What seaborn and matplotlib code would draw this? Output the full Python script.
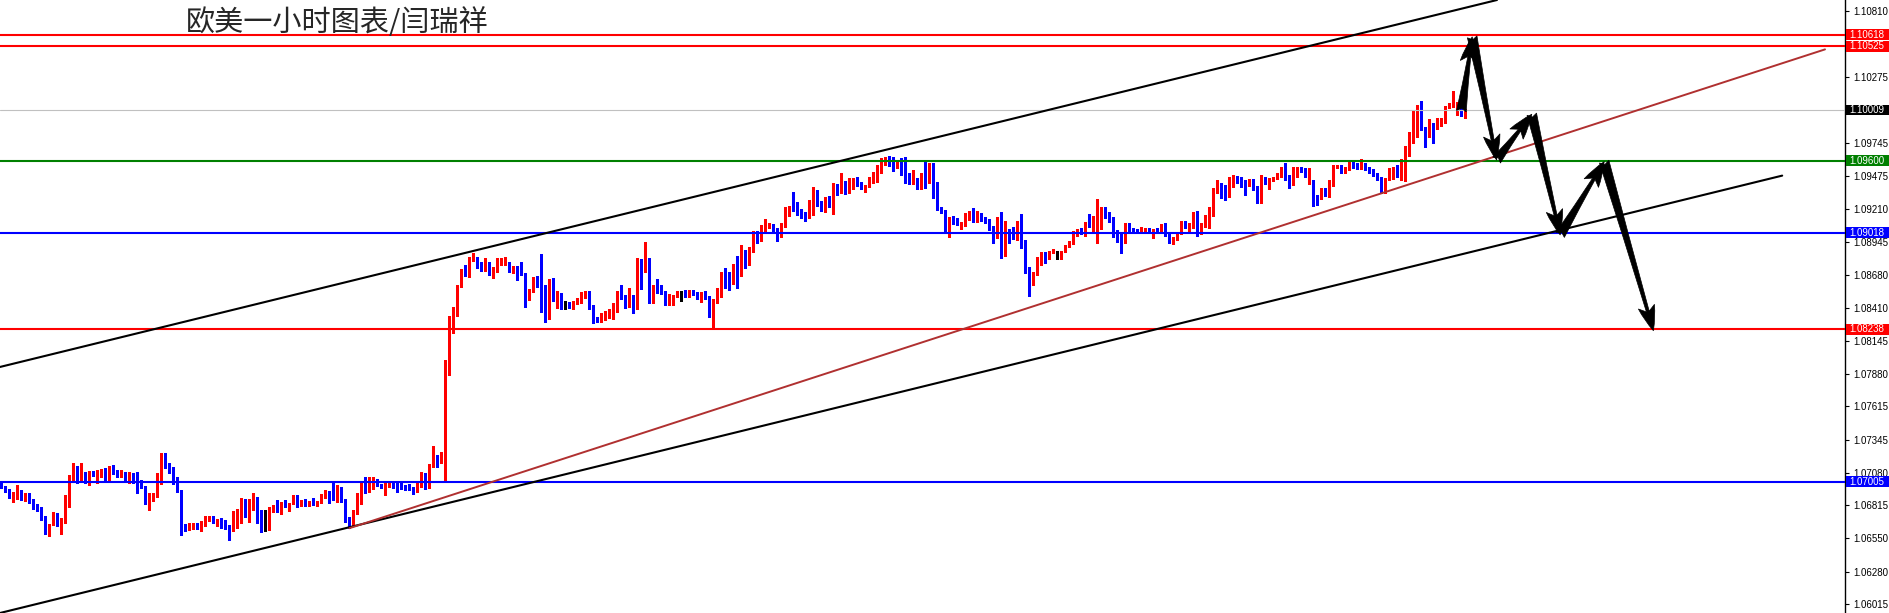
import numpy as np
import matplotlib
matplotlib.use('Agg')
import matplotlib.pyplot as plt
import matplotlib.transforms as mtransforms
from matplotlib.patches import Rectangle
import seaborn as sns

sns.set_style('white')
plt.rcParams['font.family'] = ['Liberation Sans', 'DejaVu Sans']

title = '欧美一小时图表/闫瑞祥'

# hourly EURUSD candles
opens = [
    1.06985, 1.06966, 1.06939, 1.06888, 1.06904, 1.06923, 1.06877, 1.06907, 1.06853, 1.06805,
    1.06783, 1.06710, 1.06635, 1.06662, 1.06751, 1.06657, 1.06675, 1.06885, 1.07034, 1.07128,
    1.07055, 1.07079, 1.07007, 1.07087, 1.07042, 1.07055, 1.07106, 1.07012, 1.07109, 1.07087,
    1.07055, 1.07082, 1.07020, 1.07066, 1.07042, 1.07007, 1.06961, 1.06858, 1.06858, 1.06885,
    1.07060, 1.07230, 1.07133, 1.07087, 1.07034, 1.06931, 1.06657, 1.06621, 1.06635, 1.06662,
    1.06648, 1.06657, 1.06697, 1.06716, 1.06675, 1.06697, 1.06675, 1.06643, 1.06611, 1.06691,
    1.06756, 1.06858, 1.06751, 1.06799, 1.06877, 1.06710, 1.06683, 1.06675, 1.06772, 1.06791,
    1.06778, 1.06837, 1.06815, 1.06829, 1.06891, 1.06818, 1.06850, 1.06815, 1.06845, 1.06818,
    1.06839, 1.06885, 1.06918, 1.06899, 1.06877, 1.06958, 1.06858, 1.06710, 1.06710, 1.06751,
    1.06866, 1.06979, 1.06934, 1.06988, 1.06998, 1.06979, 1.06901, 1.06966, 1.06993, 1.06979,
    1.06971, 1.06966, 1.06950, 1.06950, 1.06934, 1.06971, 1.07041, 1.06966, 1.07133, 1.07208,
    1.07168, 1.07195, 1.07868, 1.08312, 1.08353, 1.08582, 1.08716, 1.08676, 1.08797, 1.08811,
    1.08749, 1.08716, 1.08770, 1.08681, 1.08703, 1.08765, 1.08765, 1.08765, 1.08711, 1.08716,
    1.08716, 1.08689, 1.08501, 1.08549, 1.08641, 1.08622, 1.08582, 1.08334, 1.08641, 1.08501,
    1.08522, 1.08433, 1.08447, 1.08412, 1.08447, 1.08460, 1.08528, 1.08538, 1.08425, 1.08323,
    1.08304, 1.08353, 1.08358, 1.08366, 1.08393, 1.08538, 1.08501, 1.08428, 1.08506, 1.08401,
    1.08797, 1.08743, 1.08775, 1.08479, 1.08587, 1.08582, 1.08541, 1.08442, 1.08460, 1.08501,
    1.08506, 1.08514, 1.08506, 1.08541, 1.08528, 1.08487, 1.08522, 1.08495, 1.08366, 1.08460,
    1.08507, 1.08690, 1.08657, 1.08614, 1.08698, 1.08676, 1.08851, 1.08765, 1.08878, 1.09013,
    1.08978, 1.09067, 1.09067, 1.09080, 1.09040, 1.08994, 1.09061, 1.09207, 1.09223, 1.09207,
    1.09175, 1.09161, 1.09142, 1.09175, 1.09358, 1.09250, 1.09207, 1.09282, 1.09242, 1.09395,
    1.09350, 1.09430, 1.09350, 1.09436, 1.09452, 1.09403, 1.09350, 1.09390, 1.09430, 1.09436,
    1.09503, 1.09600, 1.09619, 1.09578, 1.09546, 1.09578, 1.09525, 1.09444, 1.09422, 1.09438,
    1.09377, 1.09471, 1.09430, 1.09517, 1.09331, 1.09220, 1.09196, 1.09067, 1.09134, 1.09107,
    1.09053, 1.09080, 1.09153, 1.09183, 1.09115, 1.09142, 1.09129, 1.09121, 1.09061, 1.08981,
    1.09134, 1.08833, 1.09013, 1.08999, 1.08986, 1.09053, 1.08951, 1.08733, 1.08641, 1.08690,
    1.08765, 1.08833, 1.08824, 1.08859, 1.08851, 1.08846, 1.08865, 1.08905, 1.08932, 1.09008,
    1.09040, 1.09018, 1.09099, 1.09061, 1.09121, 1.09161, 1.09220, 1.09180, 1.09134, 1.09018,
    1.09013, 1.08946, 1.09088, 1.09045, 1.09045, 1.09018, 1.09026, 1.09040, 1.09005, 1.09045,
    1.09018, 1.09059, 1.09005, 1.08938, 1.08970, 1.09013, 1.09107, 1.09059, 1.09061, 1.09180,
    1.09027, 1.09089, 1.09148, 1.09207, 1.09350, 1.09390, 1.09390, 1.09315, 1.09390, 1.09466,
    1.09452, 1.09436, 1.09423, 1.09439, 1.09390, 1.09261, 1.09463, 1.09412, 1.09444, 1.09458,
    1.09476, 1.09490, 1.09471, 1.09409, 1.09525, 1.09538, 1.09530, 1.09485, 1.09431, 1.09315,
    1.09296, 1.09358, 1.09323, 1.09404, 1.09546, 1.09557, 1.09511, 1.09530, 1.09584, 1.09571,
    1.09557, 1.09565, 1.09538, 1.09519, 1.09498, 1.09458, 1.09350, 1.09450, 1.09503, 1.09509,
    1.09471, 1.09485, 1.09700, 1.09767, 1.09843, 1.10037, 1.09862, 1.09794, 1.09902, 1.09862,
    1.09915, 1.09915, 1.10031, 1.10045, 1.10045, 1.10058, 1.09969,
]
highs = [
    1.06993, 1.06972, 1.06945, 1.06926, 1.06980, 1.06939, 1.06912, 1.06912, 1.06864, 1.06823,
    1.06799, 1.06729, 1.06667, 1.06764, 1.06756, 1.06710, 1.06899, 1.07060, 1.07155, 1.07136,
    1.07155, 1.07087, 1.07093, 1.07095, 1.07101, 1.07109, 1.07117, 1.07136, 1.07144, 1.07101,
    1.07101, 1.07087, 1.07087, 1.07079, 1.07082, 1.07020, 1.06972, 1.06912, 1.06912, 1.07079,
    1.07241, 1.07235, 1.07155, 1.07128, 1.07042, 1.06939, 1.06665, 1.06670, 1.06675, 1.06675,
    1.06689, 1.06732, 1.06729, 1.06729, 1.06702, 1.06710, 1.06697, 1.06657, 1.06770, 1.06783,
    1.06872, 1.06866, 1.06864, 1.06912, 1.06885, 1.06778, 1.06778, 1.06799, 1.06818, 1.06858,
    1.06845, 1.06858, 1.06837, 1.06896, 1.06896, 1.06858, 1.06864, 1.06850, 1.06877, 1.06850,
    1.06904, 1.06939, 1.06934, 1.07006, 1.06979, 1.06966, 1.06869, 1.06724, 1.06778, 1.06912,
    1.06993, 1.07047, 1.07041, 1.07047, 1.07025, 1.06988, 1.07006, 1.07006, 1.07006, 1.06993,
    1.06993, 1.06979, 1.06988, 1.06961, 1.06993, 1.07087, 1.07079, 1.07146, 1.07295, 1.07222,
    1.07249, 1.07989, 1.08345, 1.08415, 1.08595, 1.08725, 1.08757, 1.08819, 1.08857, 1.08824,
    1.08784, 1.08810, 1.08784, 1.08743, 1.08810, 1.08816, 1.08824, 1.08784, 1.08749, 1.08749,
    1.08784, 1.08695, 1.08560, 1.08662, 1.08668, 1.08846, 1.08595, 1.08641, 1.08649, 1.08547,
    1.08533, 1.08466, 1.08460, 1.08466, 1.08487, 1.08541, 1.08544, 1.08544, 1.08433, 1.08339,
    1.08366, 1.08388, 1.08398, 1.08452, 1.08547, 1.08595, 1.08514, 1.08568, 1.08514, 1.08810,
    1.08802, 1.08940, 1.08810, 1.08595, 1.08641, 1.08595, 1.08547, 1.08522, 1.08514, 1.08547,
    1.08547, 1.08555, 1.08555, 1.08555, 1.08541, 1.08541, 1.08549, 1.08506, 1.08479, 1.08568,
    1.08703, 1.08730, 1.08703, 1.08765, 1.08830, 1.08919, 1.08878, 1.08905, 1.09034, 1.09034,
    1.09080, 1.09126, 1.09099, 1.09088, 1.09053, 1.09094, 1.09228, 1.09236, 1.09344, 1.09269,
    1.09207, 1.09188, 1.09282, 1.09390, 1.09363, 1.09274, 1.09309, 1.09315, 1.09422, 1.09409,
    1.09503, 1.09436, 1.09463, 1.09463, 1.09471, 1.09430, 1.09403, 1.09471, 1.09511, 1.09565,
    1.09619, 1.09632, 1.09638, 1.09632, 1.09605, 1.09619, 1.09632, 1.09498, 1.09525, 1.09457,
    1.09498, 1.09592, 1.09584, 1.09584, 1.09430, 1.09228, 1.09201, 1.09148, 1.09153, 1.09134,
    1.09107, 1.09175, 1.09191, 1.09215, 1.09193, 1.09175, 1.09148, 1.09131, 1.09072, 1.09148,
    1.09188, 1.09113, 1.09045, 1.09061, 1.09113, 1.09169, 1.08959, 1.08738, 1.08703, 1.08824,
    1.08865, 1.08865, 1.08870, 1.08884, 1.08870, 1.08873, 1.08916, 1.08954, 1.09034, 1.09045,
    1.09053, 1.09107, 1.09169, 1.09153, 1.09288, 1.09228, 1.09228, 1.09188, 1.09142, 1.09040,
    1.09026, 1.09099, 1.09094, 1.09053, 1.09051, 1.09061, 1.09053, 1.09053, 1.09045, 1.09053,
    1.09086, 1.09099, 1.09013, 1.08986, 1.09018, 1.09115, 1.09113, 1.09094, 1.09188, 1.09196,
    1.09094, 1.09161, 1.09229, 1.09377, 1.09444, 1.09417, 1.09404, 1.09471, 1.09485, 1.09476,
    1.09471, 1.09444, 1.09450, 1.09450, 1.09396, 1.09485, 1.09471, 1.09458, 1.09471, 1.09498,
    1.09546, 1.09584, 1.09485, 1.09552, 1.09546, 1.09546, 1.09538, 1.09538, 1.09444, 1.09323,
    1.09377, 1.09377, 1.09444, 1.09565, 1.09565, 1.09563, 1.09546, 1.09592, 1.09600, 1.09584,
    1.09611, 1.09579, 1.09546, 1.09530, 1.09503, 1.09466, 1.09458, 1.09538, 1.09546, 1.09565,
    1.09611, 1.09719, 1.09835, 1.10010, 1.10050, 1.10082, 1.09875, 1.09934, 1.09907, 1.09942,
    1.09948, 1.10042, 1.10063, 1.10163, 1.10077, 1.10069, 1.10015,
]
lows = [
    1.06953, 1.06926, 1.06877, 1.06845, 1.06867, 1.06858, 1.06853, 1.06837, 1.06783, 1.06772,
    1.06697, 1.06581, 1.06568, 1.06657, 1.06651, 1.06581, 1.06670, 1.06805, 1.07020, 1.06993,
    1.07007, 1.06993, 1.06980, 1.07055, 1.06993, 1.07047, 1.07001, 1.07001, 1.07069, 1.07047,
    1.07047, 1.07001, 1.06993, 1.06993, 1.06918, 1.06953, 1.06826, 1.06778, 1.06853, 1.06880,
    1.06985, 1.07114, 1.07074, 1.06985, 1.06920, 1.06576, 1.06608, 1.06616, 1.06624, 1.06624,
    1.06611, 1.06648, 1.06691, 1.06675, 1.06648, 1.06635, 1.06621, 1.06535, 1.06608, 1.06630,
    1.06675, 1.06718, 1.06683, 1.06778, 1.06675, 1.06602, 1.06608, 1.06616, 1.06764, 1.06764,
    1.06745, 1.06804, 1.06772, 1.06823, 1.06804, 1.06810, 1.06810, 1.06810, 1.06818, 1.06813,
    1.06831, 1.06872, 1.06837, 1.06858, 1.06845, 1.06845, 1.06683, 1.06629, 1.06656, 1.06745,
    1.06826, 1.06918, 1.06926, 1.06944, 1.06971, 1.06953, 1.06899, 1.06961, 1.06953, 1.06926,
    1.06944, 1.06939, 1.06939, 1.06907, 1.06926, 1.06966, 1.06944, 1.06953, 1.07128, 1.07128,
    1.07160, 1.07020, 1.07868, 1.08210, 1.08345, 1.08576, 1.08668, 1.08663, 1.08792, 1.08730,
    1.08708, 1.08711, 1.08676, 1.08649, 1.08697, 1.08757, 1.08757, 1.08703, 1.08695, 1.08635,
    1.08676, 1.08420, 1.08474, 1.08541, 1.08582, 1.08380, 1.08299, 1.08318, 1.08469, 1.08407,
    1.08398, 1.08398, 1.08407, 1.08398, 1.08442, 1.08452, 1.08493, 1.08398, 1.08285, 1.08296,
    1.08299, 1.08312, 1.08326, 1.08320, 1.08380, 1.08479, 1.08407, 1.08420, 1.08366, 1.08398,
    1.08563, 1.08703, 1.08452, 1.08447, 1.08533, 1.08522, 1.08433, 1.08433, 1.08433, 1.08495,
    1.08468, 1.08495, 1.08501, 1.08514, 1.08479, 1.08460, 1.08479, 1.08334, 1.08240, 1.08447,
    1.08501, 1.08569, 1.08555, 1.08604, 1.08569, 1.08668, 1.08730, 1.08757, 1.08865, 1.08938,
    1.08951, 1.09026, 1.09053, 1.09026, 1.08954, 1.08986, 1.09061, 1.09153, 1.09196, 1.09164,
    1.09139, 1.09113, 1.09134, 1.09161, 1.09234, 1.09193, 1.09188, 1.09228, 1.09169, 1.09323,
    1.09336, 1.09331, 1.09336, 1.09368, 1.09395, 1.09368, 1.09344, 1.09385, 1.09417, 1.09430,
    1.09498, 1.09565, 1.09557, 1.09519, 1.09538, 1.09484, 1.09422, 1.09409, 1.09411, 1.09371,
    1.09371, 1.09377, 1.09422, 1.09296, 1.09201, 1.09175, 1.09026, 1.08986, 1.09088, 1.09080,
    1.09045, 1.09072, 1.09121, 1.09107, 1.09107, 1.09113, 1.09094, 1.09040, 1.08938, 1.08973,
    1.08811, 1.08830, 1.08932, 1.08964, 1.08959, 1.08897, 1.08695, 1.08509, 1.08596, 1.08676,
    1.08757, 1.08776, 1.08803, 1.08851, 1.08803, 1.08806, 1.08859, 1.08899, 1.08927, 1.08991,
    1.09008, 1.08991, 1.09061, 1.09026, 1.08938, 1.09045, 1.09134, 1.09107, 1.08986, 1.08946,
    1.08857, 1.08938, 1.09034, 1.09018, 1.09013, 1.09013, 1.09018, 1.09013, 1.08978, 1.09013,
    1.09013, 1.08991, 1.08932, 1.08927, 1.08959, 1.09008, 1.09053, 1.09026, 1.09053, 1.08994,
    1.09008, 1.09067, 1.09054, 1.09153, 1.09336, 1.09296, 1.09283, 1.09309, 1.09385, 1.09417,
    1.09385, 1.09323, 1.09396, 1.09363, 1.09261, 1.09256, 1.09409, 1.09369, 1.09436, 1.09450,
    1.09471, 1.09444, 1.09377, 1.09404, 1.09471, 1.09511, 1.09466, 1.09412, 1.09234, 1.09242,
    1.09288, 1.09315, 1.09309, 1.09396, 1.09538, 1.09498, 1.09503, 1.09525, 1.09538, 1.09530,
    1.09530, 1.09525, 1.09503, 1.09476, 1.09444, 1.09336, 1.09342, 1.09444, 1.09450, 1.09471,
    1.09444, 1.09436, 1.09638, 1.09740, 1.09794, 1.09848, 1.09713, 1.09789, 1.09740, 1.09853,
    1.09880, 1.09907, 1.10023, 1.10037, 1.09969, 1.09961, 1.09942,
]
closes = [
    1.06961, 1.06934, 1.06885, 1.06904, 1.06923, 1.06875, 1.06907, 1.06845, 1.06799, 1.06778,
    1.06705, 1.06635, 1.06662, 1.06753, 1.06662, 1.06681, 1.06891, 1.07034, 1.07141, 1.07055,
    1.07079, 1.06998, 1.07087, 1.07063, 1.07066, 1.07101, 1.07007, 1.07109, 1.07074, 1.07060,
    1.07082, 1.07007, 1.07060, 1.07028, 1.07007, 1.06961, 1.06845, 1.06885, 1.06893, 1.07060,
    1.07230, 1.07128, 1.07079, 1.07034, 1.06926, 1.06648, 1.06616, 1.06665, 1.06662, 1.06648,
    1.06662, 1.06710, 1.06713, 1.06683, 1.06697, 1.06675, 1.06630, 1.06611, 1.06697, 1.06751,
    1.06858, 1.06745, 1.06799, 1.06872, 1.06702, 1.06675, 1.06683, 1.06778, 1.06796, 1.06772,
    1.06837, 1.06815, 1.06831, 1.06891, 1.06818, 1.06850, 1.06818, 1.06845, 1.06823, 1.06845,
    1.06893, 1.06918, 1.06896, 1.06877, 1.06958, 1.06853, 1.06710, 1.06702, 1.06756, 1.06872,
    1.06979, 1.06939, 1.06998, 1.06998, 1.06974, 1.06961, 1.06971, 1.06993, 1.06966, 1.06961,
    1.06953, 1.06950, 1.06944, 1.06934, 1.06979, 1.07041, 1.06961, 1.07141, 1.07208, 1.07168,
    1.07195, 1.07882, 1.08318, 1.08361, 1.08587, 1.08716, 1.08676, 1.08803, 1.08819, 1.08765,
    1.08716, 1.08770, 1.08681, 1.08711, 1.08770, 1.08805, 1.08810, 1.08708, 1.08716, 1.08711,
    1.08684, 1.08501, 1.08555, 1.08641, 1.08622, 1.08568, 1.08326, 1.08635, 1.08501, 1.08522,
    1.08442, 1.08433, 1.08412, 1.08460, 1.08468, 1.08533, 1.08538, 1.08415, 1.08312, 1.08304,
    1.08358, 1.08374, 1.08385, 1.08401, 1.08538, 1.08493, 1.08425, 1.08506, 1.08401, 1.08797,
    1.08743, 1.08765, 1.08474, 1.08587, 1.08568, 1.08533, 1.08442, 1.08514, 1.08506, 1.08514,
    1.08506, 1.08501, 1.08541, 1.08528, 1.08487, 1.08522, 1.08487, 1.08366, 1.08474, 1.08514,
    1.08695, 1.08641, 1.08614, 1.08698, 1.08676, 1.08851, 1.08765, 1.08884, 1.09013, 1.08978,
    1.09072, 1.09113, 1.09080, 1.09034, 1.08994, 1.09067, 1.09207, 1.09223, 1.09201, 1.09169,
    1.09148, 1.09139, 1.09175, 1.09358, 1.09242, 1.09207, 1.09282, 1.09242, 1.09395, 1.09363,
    1.09430, 1.09342, 1.09444, 1.09452, 1.09403, 1.09377, 1.09395, 1.09436, 1.09449, 1.09511,
    1.09605, 1.09619, 1.09570, 1.09546, 1.09578, 1.09519, 1.09444, 1.09422, 1.09444, 1.09377,
    1.09471, 1.09430, 1.09517, 1.09323, 1.09210, 1.09196, 1.09067, 1.09134, 1.09099, 1.09088,
    1.09094, 1.09161, 1.09183, 1.09115, 1.09142, 1.09121, 1.09121, 1.09048, 1.08986, 1.09134,
    1.08843, 1.09013, 1.08994, 1.08978, 1.09053, 1.08946, 1.08727, 1.08641, 1.08695, 1.08771,
    1.08833, 1.08816, 1.08865, 1.08873, 1.08851, 1.08870, 1.08911, 1.08938, 1.09013, 1.09040,
    1.09018, 1.09099, 1.09067, 1.09129, 1.09169, 1.09220, 1.09175, 1.09129, 1.09018, 1.08999,
    1.08946, 1.09088, 1.09040, 1.09034, 1.09018, 1.09034, 1.09045, 1.09018, 1.09040, 1.09018,
    1.09059, 1.08999, 1.08938, 1.08981, 1.09013, 1.09107, 1.09059, 1.09072, 1.09180, 1.09018,
    1.09089, 1.09153, 1.09215, 1.09355, 1.09390, 1.09323, 1.09323, 1.09463, 1.09471, 1.09431,
    1.09423, 1.09342, 1.09439, 1.09377, 1.09269, 1.09463, 1.09417, 1.09450, 1.09463, 1.09490,
    1.09490, 1.09450, 1.09409, 1.09530, 1.09538, 1.09519, 1.09476, 1.09530, 1.09269, 1.09269,
    1.09363, 1.09323, 1.09412, 1.09552, 1.09557, 1.09511, 1.09538, 1.09579, 1.09565, 1.09557,
    1.09571, 1.09530, 1.09511, 1.09485, 1.09452, 1.09342, 1.09450, 1.09525, 1.09530, 1.09476,
    1.09493, 1.09713, 1.09775, 1.09843, 1.10042, 1.09862, 1.09794, 1.09897, 1.09862, 1.09915,
    1.09934, 1.10037, 1.10050, 1.10055, 1.10055, 1.09969, 1.10007,
]

# horizontal levels and their label colours
levels = [1.10618, 1.10525, 1.10009, 1.09600, 1.09018, 1.08238, 1.07005]
level_colors = ['#ff0000', '#ff0000', '#c0c0c0', '#008000', '#0000ff', '#ff0000', '#0000ff']
label_colors = ['#ff0000', '#ff0000', '#000000', '#008000', '#0000ff', '#ff0000', '#0000ff']

# price scale ticks (the ones hidden behind the level labels are left out)
axis_ticks = [1.10810, 1.10275, 1.09745, 1.09475, 1.09210, 1.08945,
              1.08680, 1.08410, 1.08145, 1.07880, 1.07615, 1.07345, 1.07080, 1.06815,
              1.06550, 1.06280, 1.06015]

# trend lines: (bar index, price) end points
upper_x, upper_y = [-0.33, 373.9], [1.07933, 1.10898]
lower_x, lower_y = [-0.33, 445.2], [1.05945, 1.09479]
support_x, support_y = [87, 455.9], [1.06630, 1.10499]

# projected zigzag drawn with arrows
path_x = [365, 367.7, 373.8, 382.6, 389.7, 400.7, 413.0]
path_y = [1.10000, 1.10600, 1.09605, 1.09975, 1.09000, 1.09592, 1.08226]

fig = plt.figure(figsize=(18.89, 6.13), dpi=100)
ax = fig.add_axes([0, 0, 1845 / 1889, 1])

o = np.array(opens)
h = np.array(highs)
l = np.array(lows)
c = np.array(closes)
idx = np.arange(len(c))
cols = np.where(c > o, '#ff0000', np.where(c < o, '#0000ff', '#000000'))

ax.vlines(idx, l, h, colors=cols, lw=0.8, zorder=2, antialiased=False)
body = np.maximum(np.abs(c - o), 0.00009)
bottom = np.where(c == o, o - 0.000045, np.minimum(o, c))
ax.bar(idx, body, bottom=bottom, width=0.75, color=cols, linewidth=0, zorder=2, antialiased=False)

for lv, lc in zip(levels, level_colors):
    ax.axhline(lv, color=lc, lw=0.8 if lc == '#c0c0c0' else 1.5, zorder=3)

sns.lineplot(x=upper_x, y=upper_y, ax=ax, color='black', lw=1.5, zorder=3)
sns.lineplot(x=lower_x, y=lower_y, ax=ax, color='black', lw=1.5, zorder=3)
sns.lineplot(x=support_x, y=support_y, ax=ax, color='#b03030', lw=1.4, zorder=3)

for i in range(len(path_x) - 1):
    ax.annotate('', xy=(path_x[i + 1], path_y[i + 1]), xytext=(path_x[i], path_y[i]),
                arrowprops=dict(arrowstyle='fancy,head_length=0.9,head_width=0.6,tail_width=0.35',
                                fc='black', ec='black', lw=0.5, mutation_scale=20,
                                shrinkA=0, shrinkB=0), zorder=4)

ax.set_xlim(-0.33, 460.9)
ax.set_ylim(1.05945, 1.10898)
ax.set_xticks([])
for s in ['top', 'left', 'bottom']:
    ax.spines[s].set_visible(False)
ax.spines['right'].set_color('black')
ax.spines['right'].set_linewidth(1)
ax.yaxis.tick_right()
ax.set_yticks(axis_ticks)
ax.set_yticklabels([f'{v:.5f}' for v in axis_ticks])
ax.tick_params(axis='y', right=True, direction='out', length=3, width=0.8, pad=3,
               labelsize=7, colors='black')

trans = mtransforms.blended_transform_factory(ax.transAxes, ax.transData)
box_h = 0.00088
for lv, bc in zip(levels, label_colors):
    ax.add_patch(Rectangle((1.0005, lv - box_h / 2), 44 / 1845, box_h, transform=trans,
                           fc=bc, ec='none', clip_on=False, zorder=5))
    ax.text(1.0 + 4 / 1845, lv, f'{lv:.5f}', transform=trans, color='white', fontsize=7,
            va='center', ha='left', clip_on=False, zorder=6)

fig.text(186 / 1889, 1 - 23 / 613, title, fontsize=21, ha='left', va='center',
         family=['Noto Sans CJK SC', 'DejaVu Sans'])

fig.savefig('out.png', dpi=100)
